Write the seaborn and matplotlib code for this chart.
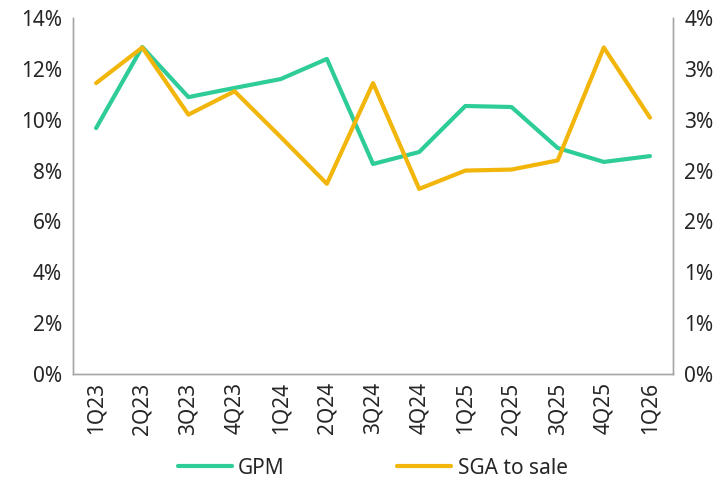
import math
import numpy as np
import pandas as pd
import seaborn as sns
import matplotlib.pyplot as plt
from matplotlib.lines import Line2D

quarters = ["1Q23", "2Q23", "3Q23", "4Q23", "1Q24", "2Q24", "3Q24",
            "4Q24", "1Q25", "2Q25", "3Q25", "4Q25", "1Q26"]
gpm = [0.0967, 0.1286, 0.1089, 0.1125, 0.1160, 0.1239, 0.0826,
       0.0873, 0.1054, 0.1050, 0.0889, 0.0834, 0.0857]
sga_to_sale = [0.0286, 0.0321, 0.0255, 0.0278, 0.0233, 0.0187, 0.0286,
               0.0182, 0.0200, 0.0201, 0.0210, 0.0321, 0.0252]

df = pd.DataFrame({"quarter": quarters, "GPM": gpm, "SGA to sale": sga_to_sale})
df["pos"] = range(len(df))

sns.set_theme(style="white")
plt.rcParams["font.family"] = ["Noto Sans", "DejaVu Sans"]

green = "#2ECC98"
yellow = "#F2B50A"
grey = "#A6A6A6"
fs = 15

fig = plt.figure(figsize=(7.28, 4.83), dpi=100)
ax = fig.add_axes([0.1003, 0.2257, 0.8242, 0.737])
ax2 = ax.twinx()

sns.lineplot(data=df, x="pos", y="GPM", ax=ax, color=green, linewidth=3)
sns.lineplot(data=df, x="pos", y="SGA to sale", ax=ax2, color=yellow, linewidth=3)

ax.set_xlim(-0.5, len(quarters) - 0.5)
ax.set_ylim(0, 0.14)
ax2.set_ylim(0, 0.035)

ax.set_xticks(df["pos"])
ax.set_xticklabels(quarters, rotation=90, fontsize=fs)
left_ticks = np.arange(0, 0.141, 0.02)
ax.set_yticks(left_ticks)
ax.set_yticklabels([f"{t*100:.0f}%" for t in left_ticks], fontsize=fs)
right_ticks = np.arange(0, 0.0351, 0.005)
ax2.set_yticks(right_ticks)
ax2.set_yticklabels([f"{math.floor(t*100 + 0.5 + 1e-9)}%" for t in right_ticks], fontsize=fs)

for a in (ax, ax2):
    a.set_xlabel("")
    a.set_ylabel("")
    a.tick_params(length=0, pad=8)
    a.spines["top"].set_visible(False)
    for s in ("left", "right", "bottom"):
        a.spines[s].set_color(grey)
        a.spines[s].set_linewidth(1)
ax.tick_params(axis="x", pad=6)

handles = [Line2D([0], [0], color=green, linewidth=3),
           Line2D([0], [0], color=yellow, linewidth=3)]
fig.legend(handles, ["GPM", "SGA to sale"], loc="lower center",
           bbox_to_anchor=(0.512, -0.03), ncol=2, frameon=False, fontsize=fs,
           handlelength=2.6, handletextpad=0.3, columnspacing=5.4)

fig.savefig("out.png", dpi=100)
